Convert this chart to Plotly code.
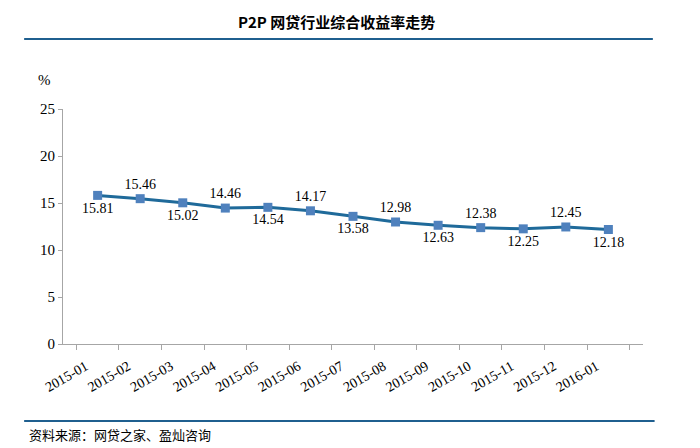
import plotly.graph_objects as go

# 数据
months = ['2015-01', '2015-02', '2015-03', '2015-04', '2015-05', '2015-06', '2015-07',
          '2015-08', '2015-09', '2015-10', '2015-11', '2015-12', '2016-01']
rates = [15.81, 15.46, 15.02, 14.46, 14.54, 14.17, 13.58, 12.98, 12.63, 12.38, 12.25, 12.45, 12.18]
y_ticks = [0, 5, 10, 15, 20, 25]

# 标签上下交替
positions = ['bottom center' if i % 2 == 0 else 'top center' for i in range(len(months))]

serif = 'Liberation Serif'
cjk = 'Noto Sans CJK SC'

fig = go.Figure(go.Scatter(
    x=months,
    y=rates,
    mode='lines+markers+text',
    line=dict(color='#1f6a9a', width=3),
    marker=dict(symbol='square', size=9, color='#4f81bd'),
    text=[f'{v:.2f}' for v in rates],
    textposition=positions,
    textfont=dict(family=serif, size=14, color='black'),
    cliponaxis=False,
))

fig.update_xaxes(
    type='category', automargin=False,
    tickson='boundaries', ticks='outside', ticklen=5, tickcolor='#a6a6a6',
    showline=True, linecolor='#a6a6a6', linewidth=1, showgrid=False,
    tickangle=-30, ticklabelshift=-12, ticklabelstandoff=8,
    tickfont=dict(family=serif, size=14, color='black'),
)
fig.update_yaxes(
    automargin=False,
    range=[0, 25], tickvals=y_ticks, ticks='outside', ticklen=4, tickcolor='#a6a6a6',
    showline=True, linecolor='#a6a6a6', linewidth=1, showgrid=False, zeroline=False,
    tickfont=dict(family=serif, size=15, color='black'),
)

fig.update_layout(
    width=700, height=448,
    margin=dict(l=55, r=65, t=101, b=112),
    plot_bgcolor='white', paper_bgcolor='white',
    showlegend=False,
    shapes=[
        dict(type='line', xref='paper', yref='paper', x0=-0.067, x1=1.017, y0=1.298, y1=1.298,
             line=dict(color='#1f5f8f', width=2)),
        dict(type='line', xref='paper', yref='paper', x0=-0.067, x1=1.02, y0=-0.328, y1=-0.328,
             line=dict(color='#1f5f8f', width=2)),
    ],
    annotations=[
        dict(text='<b>P2P 网贷行业综合收益率走势</b>', xref='paper', yref='paper',
             x=0.472, y=1.425, yanchor='top', showarrow=False,
             font=dict(family=cjk, size=15, color='black')),
        dict(text='%', xref='paper', yref='paper', x=-0.047, y=1.123, yanchor='middle',
             showarrow=False, font=dict(family=serif, size=15, color='black')),
        dict(text='资料来源：网贷之家、盈灿咨询', xref='paper', yref='paper', x=-0.062, y=-0.387,
             xanchor='left', yanchor='middle', showarrow=False,
             font=dict(family=cjk, size=13, color='black')),
    ],
)

fig.write_html('out.html')
